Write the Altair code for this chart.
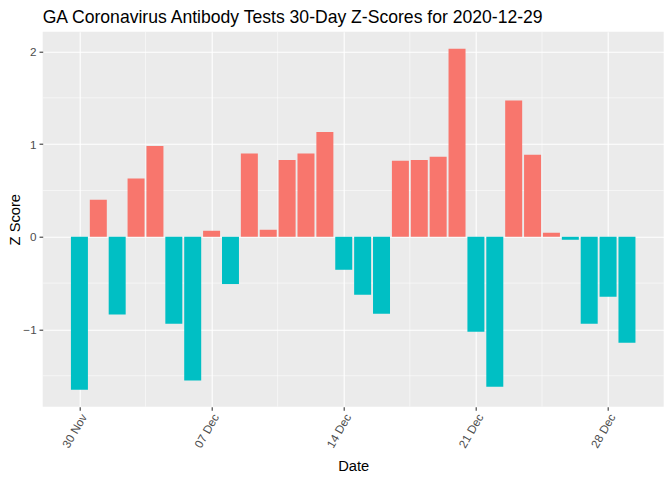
import altair as alt
import pandas as pd

dates = pd.date_range("2020-11-30", "2020-12-29", freq="D").strftime("%Y-%m-%d").tolist()
zscores = [-1.65, 0.40, -0.84, 0.63, 0.98, -0.94, -1.55, 0.065, -0.51, 0.90,
           0.076, 0.83, 0.90, 1.13, -0.356, -0.626, -0.83, 0.82, 0.83, 0.863,
           2.03, -1.025, -1.62, 1.47, 0.885, 0.043, -0.032, -0.94, -0.647, -1.144]
tick_dates = ["2020-11-30", "2020-12-07", "2020-12-14", "2020-12-21", "2020-12-28"]
minor_x = ["2020-12-03T12:00:00Z", "2020-12-10T12:00:00Z", "2020-12-17T12:00:00Z", "2020-12-24T12:00:00Z"]
y_major = [-1, 0, 1, 2]
y_minor = [-1.5, -0.5, 0.5, 1.5]

df = pd.DataFrame({"date": dates, "z": zscores})
DAY = 86400000
x0 = pd.Timestamp("2020-11-30", tz="UTC").value // 10**6
xdom = [x0 - 1.945 * DAY, x0 + 30.945 * DAY]
ydom = [-1.834, 2.214]

FONT = "Liberation Sans"
xscale = alt.Scale(type="utc", domain=xdom, nice=False)
yscale = alt.Scale(domain=ydom, nice=False, zero=False)

tick_ms = [pd.Timestamp(d, tz="UTC").value // 10**6 for d in tick_dates]

xaxis = alt.Axis(
    values=tick_ms, labelExpr="utcFormat(datum.value, '%d %b')", title="Date", grid=True,
    gridColor="white", gridWidth=1.07, domain=False, tickColor="#333333",
    tickSize=3.67, tickWidth=1.07, labelAngle=300, labelAlign="right",
    labelBaseline="middle", labelPadding=4, labelOffset=4, labelColor="#4D4D4D",
    labelFontSize=11.7, labelFont=FONT, titleFont=FONT, titleFontSize=14.7,
    titleFontWeight="normal", titleColor="black", titleY=52, titleBaseline="top",
)
yaxis = alt.Axis(
    values=y_major, format="d", title="Z Score", grid=True, gridColor="white", gridWidth=1.07,
    domain=False, tickColor="#333333", tickSize=3.67, tickWidth=1.07,
    labelPadding=2.9, labelColor="#4D4D4D", labelFontSize=11.7, labelFont=FONT,
    titleFont=FONT, titleFontSize=14.7, titleFontWeight="normal", titleColor="black",
    titleX=-27, titleBaseline="middle",
)

minor_v = alt.Chart(pd.DataFrame({"m": minor_x})).mark_rule(color="white", strokeWidth=0.53).encode(
    x=alt.X("m:T", scale=xscale)
)
minor_h = alt.Chart(pd.DataFrame({"m": y_minor})).mark_rule(color="white", strokeWidth=0.53).encode(
    y=alt.Y("m:Q", scale=yscale)
)

bars = alt.Chart(df).transform_calculate(
    start=f"toDate(datum.date) - 0.45*{DAY}",
    end=f"toDate(datum.date) + 0.45*{DAY}",
    sign="datum.z > 0 ? 'pos' : 'neg'",
).mark_rect().encode(
    x=alt.X("start:T", scale=xscale, axis=xaxis),
    x2="end:T",
    y=alt.Y("z:Q", scale=yscale, axis=yaxis),
    y2=alt.datum(0),
    color=alt.Color("sign:N", scale=alt.Scale(domain=["pos", "neg"], range=["#F8766D", "#00BFC4"]), legend=None),
)

chart = alt.layer(minor_v, minor_h, bars).properties(
    width=621, height=375,
    autosize="none",
    padding={"left": 34.7, "top": 23.7, "right": 0, "bottom": 72},
    background="white",
    title=alt.TitleParams(
        "GA Coronavirus Antibody Tests 30-Day Z-Scores for 2020-12-29",
        anchor="start", frame="group", font=FONT, fontSize=17.6, fontWeight="normal",
        color="black", baseline="alphabetic", offset=9, dy=18,
    ),
).configure_view(fill="#EBEBEB", strokeWidth=0)

chart.save("out.html", embed_options={"renderer": "svg", "actions": False})
